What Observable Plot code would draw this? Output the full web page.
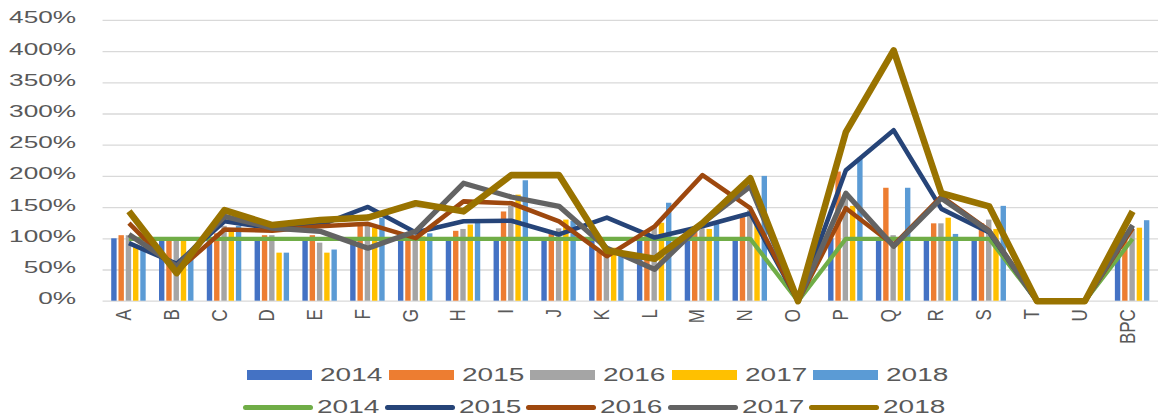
<!DOCTYPE html>
<html>
<head>
<meta charset="utf-8">
<script src="https://cdn.jsdelivr.net/npm/d3@7"></script>
<script src="https://cdn.jsdelivr.net/npm/@observablehq/plot@0.6"></script>
<style>
  html, body { margin: 0; padding: 0; background: #fff; overflow: hidden; }
  #wrap { position: relative; width: 1158px; height: 417px; overflow: hidden; font-family: "Liberation Sans", Arial, sans-serif; }
  .lg-text { position: absolute; font-size: 17.5px; line-height: 18px; color: #595959; transform: scaleX(1.6); transform-origin: 0 50%; white-space: nowrap; }
  .lg-sw { position: absolute; }
</style>
</head>
<body>
<div id="wrap"><div id="chart"></div><div id="legend"></div></div>
<script>
// ---- data ----
const categories = ["A","B","C","D","E","F","G","H","I","J","K","L","M","N","O","P","Q","R","S","T","U","BPC"];
const years = ["2014","2015","2016","2017","2018"];

// bar series (percent)
const bar2014 = [100,100,100,100,100,100,100,100,100,100,100,100,100,100,0,100,100,100,100,0,0,100];
const bar2015 = [105,96,108,105,105,120,102,112,143,108,78,110,110,134,0,207,181,124,124,0,0,110];
const bar2016 = [105,96,120,105,93,120,105,115,152,116,72,118,116,145,0,170,105,124,130,0,0,115];
const bar2017 = [90,96,112,77,77,117,103,122,170,130,85,125,115,125,0,152,95,133,115,0,0,117];
const bar2018 = [85,78,120,77,82,133,108,131,193,128,75,157,123,200,0,229,181,107,152,0,0,129];

// line series (percent)
const line2014 = [100,100,100,100,100,100,100,100,100,100,100,100,100,100,0,100,100,100,100,0,0,100];
const line2015 = [93,60,128,117,122,151,110,128,129,107,134,102,120,141,0,210,274,148,110,0,0,120];
const line2016 = [125,48,115,113,120,124,101,160,157,128,72,120,202,149,0,149,90,168,113,0,0,117];
const line2017 = [107,56,136,117,112,85,112,189,167,152,85,51,125,184,0,173,88,165,112,0,0,122];
const line2018 = [144,45,146,122,130,134,157,144,202,202,81,68,125,197,0,271,402,173,152,0,0,144];

const yTicks = [0,50,100,150,200,250,300,350,400,450];

// ---- styles ----
const barColors = ["#4472C4","#ED7D31","#A5A5A5","#FFC000","#5B9BD5"];
const lineColors = ["#70AD47","#264478","#9E480E","#636363","#997300"];
const lineWidths = [4.3, 4.6, 4.6, 5.3, 6.6];

const barSeries = [bar2014, bar2015, bar2016, bar2017, bar2018];
const lineSeries = [line2014, line2015, line2016, line2017, line2018];

const W = 1163, H = 352, ML = 103, MR = 0, MT = 20, MB = 50;
const bandW = (W - ML - MR) / categories.length;
const barW = 5.6, barStep = 7.3;

const barRows = years.map((yr, j) => categories.map((c, i) => ({cat: c, year: yr, value: barSeries[j][i]})));
const lineRows = years.map((yr, j) => categories.map((c, i) => ({cat: c, year: yr, value: lineSeries[j][i]})));

const marks = [
  Plot.gridY(yTicks, {stroke: "#d9d9d9", strokeOpacity: 1, strokeWidth: 1.3}),
  ...years.map((yr, j) => Plot.barY(barRows[j], {
    x: "cat", y: "value", fill: barColors[j],
    insetLeft: (bandW - barW) / 2, insetRight: (bandW - barW) / 2,
    dx: (j - 2) * barStep
  })),
  ...years.map((yr, j) => Plot.line(lineRows[j], {
    x: "cat", y: "value", stroke: lineColors[j], strokeWidth: lineWidths[j],
    strokeLinejoin: "round", strokeLinecap: "butt"
  })),
  Plot.axisY(yTicks, {tickFormat: d => d + "%", tickSize: 0, tickPadding: 27, fontSize: 17, color: "#595959", label: null, dy: 3}),
  Plot.axisX({tickRotate: -90, tickSize: 0, tickPadding: 8, fontSize: 17, color: "#595959", label: null, dx: 2})
];

const svg = Plot.plot({
  width: W, height: H,
  marginLeft: ML, marginRight: MR, marginTop: MT, marginBottom: MB,
  style: {fontFamily: "Liberation Sans, Arial, sans-serif", background: "#fff", overflow: "visible"},
  x: {type: "band", domain: categories, padding: 0, label: null},
  y: {domain: [0, 450], label: null},
  marks
});
document.getElementById("chart").appendChild(svg);

function stretch(selector, sx, sy) {
  svg.querySelectorAll(selector).forEach(t => {
    let tr = t.getAttribute("transform") || "";
    const x = t.getAttribute("x"), y = t.getAttribute("y");
    if (x !== null || y !== null) {
      tr = `translate(${+x || 0},${+y || 0}) ` + tr;
      t.removeAttribute("x"); t.removeAttribute("y");
    }
    t.setAttribute("transform", tr + ` scale(${sx},${sy})`);
  });
}
stretch('g[aria-label="y-axis tick label"] text', 1.55, 1);
stretch('g[aria-label="x-axis tick label"] text', 1, 1.3);

// ---- legend ----
const legend = document.getElementById("legend");
const step = 141.5;
years.forEach((yr, i) => {
  const x1 = 247 + step * i;
  const sw = document.createElement("div");
  sw.className = "lg-sw";
  Object.assign(sw.style, {left: x1 + "px", top: "370px", width: "65px", height: "10px", background: barColors[i]});
  legend.appendChild(sw);
  const t = document.createElement("div");
  t.className = "lg-text";
  t.textContent = yr;
  Object.assign(t.style, {left: (x1 + 73) + "px", top: "366px"});
  legend.appendChild(t);

  const x2 = 243 + step * i;
  const ln = document.createElement("div");
  ln.className = "lg-sw";
  Object.assign(ln.style, {left: x2 + "px", top: "405px", width: "70px", height: "5px", background: lineColors[i], borderRadius: "3px"});
  legend.appendChild(ln);
  const t2 = document.createElement("div");
  t2.className = "lg-text";
  t2.textContent = yr;
  Object.assign(t2.style, {left: (x2 + 74) + "px", top: "398px"});
  legend.appendChild(t2);
});
</script>
</body>
</html>
